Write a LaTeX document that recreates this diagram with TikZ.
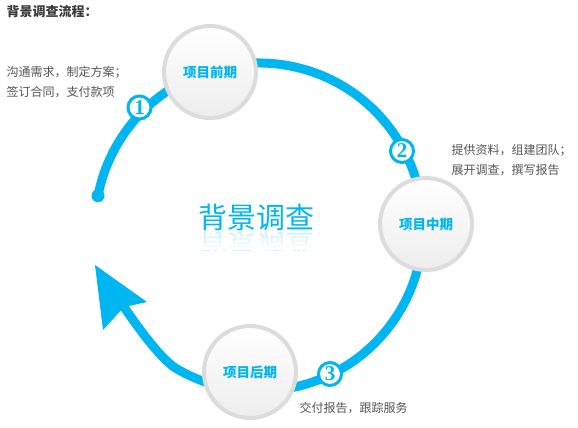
\documentclass[tikz,border=0pt]{standalone}
\usepackage{fontspec}
\setmainfont{Noto Sans CJK SC}
\newfontfamily\numfont{Liberation Serif}
\usetikzlibrary{calc}
\definecolor{cy}{HTML}{00B6F1}
\definecolor{txt}{HTML}{555555}
\definecolor{ttl}{HTML}{3A3A3A}
\definecolor{ring}{HTML}{DCDCDC}
\begin{document}
\begin{tikzpicture}[x=1pt,y=-1pt,
  stage/.style={circle, minimum size=92pt, inner sep=0pt, draw=ring, line width=4pt,
    top color=white, bottom color=black!7, text=cy,
    font=\bfseries\fontsize{13.5}{14}\selectfont},
  numc/.style={circle, minimum size=23pt, inner sep=0pt, draw=cy, line width=3pt,
    fill=white, text=cy, font=\numfont\bfseries\fontsize{21}{21}\selectfont},
  desc/.style={anchor=west, align=left, text=txt, font=\fontsize{12}{20}\selectfont},
  ttlstyle/.style={anchor=west, text=ttl, font=\bfseries\fontsize{13}{14}\selectfont}]
\useasboundingbox (0,0) rectangle (578,428);
\fill[white] (0,0) rectangle (578,428);

\coordinate (c) at (259,227);
\coordinate (s) at ($(c)+(191:164)$);
\coordinate (notch) at (124,307);

% main arc
\draw[cy, line width=9pt, line join=round] (s) arc[start angle=191, end angle=480, radius=164]
  .. controls (160,359) and (135,323) .. (notch);
\fill[cy] (s) circle[radius=6.5];
% arrow head
\fill[cy] (95,265) -- (147,302) -- (notch) -- (103,330) -- cycle;

% stage circles
\node[stage] (p1) at (210,72) {项目前期};
\node[stage] (p2) at (426,224) {项目中期};
\node[stage] (p3) at (250,372) {项目后期};

% numbers
\node[numc] (n1) at (139.5,107.5) {1};
\node[numc] (n2) at (402,151) {2};
\node[numc] (n3) at (330,374) {3};

% texts
\node[ttlstyle] (title) at (3,12) {背景调查流程：};
\node[desc] (d1) at (3,82) {沟通需求，制定方案；\\签订合同，支付款项};
\node[desc] (d2) at (448,160) {提供资料，组建团队；\\展开调查，撰写报告};
\node[desc] (d3) at (296,408) {交付报告，跟踪服务};

% center text with reflection
\node[anchor=base, text=cy, font=\fontsize{29}{29}\selectfont, inner sep=0pt] (ct) at (256,228) {背景调查};
\begin{scope}
  \clip (185,231) rectangle (330,250);
  \node[anchor=base, text=cy, opacity=0.2, font=\fontsize{29}{29}\selectfont, inner sep=0pt] (cr) at (256,234) {\scalebox{1}[-1]{背景调查}};
  \foreach \i in {0,...,18} {
    \fill[white, opacity=\i/19] (185,231+\i) rectangle (330,232+\i);
  }
\end{scope}
\end{tikzpicture}
\end{document}
